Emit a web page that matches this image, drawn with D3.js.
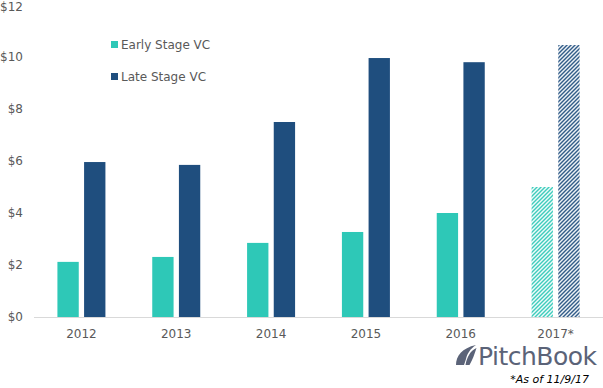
<!DOCTYPE html>
<html>
<head>
<meta charset="utf-8">
<script src="https://cdn.jsdelivr.net/npm/d3@7"></script>
<style>
  body { margin: 0; background: #fff; }
  text { font-family: "DejaVu Sans", Verdana, sans-serif; fill: #595959; }
</style>
</head>
<body>
<div class="chart"></div>
<script>
const years = ["2012", "2013", "2014", "2015", "2016", "2017*"]
const earlyStage = [2.12, 2.31, 2.85, 3.27, 4.0, 5.0]
const lateStage = [5.96, 5.85, 7.5, 9.96, 9.8, 10.46]
const yTicks = [0, 2, 4, 6, 8, 10, 12]
const seriesNames = ["Early Stage VC", "Late Stage VC"]
const seriesColors = ["#2ec8b7", "#1f4e7e"]

let width = 603, height = 388

let svg = d3.select(".chart").append("svg")
    .attr("width", width)
    .attr("height", height)

// hatch patterns for the partial year
let defs = svg.append("defs")
seriesColors.forEach((c, i) => {
    let p = defs.append("pattern")
        .attr("id", "hatch" + i)
        .attr("patternUnits", "userSpaceOnUse")
        .attr("width", 4)
        .attr("height", 4)
    p.append("path")
        .attr("d", "M-1,1 l2,-2 M0,4 l4,-4 M3,5 l2,-2")
        .attr("stroke", c)
        .attr("stroke-width", 1.4)
})

let x = d3.scaleBand()
    .domain(years)
    .range([34, 603])

let x1 = d3.scaleBand()
    .domain([0, 1])
    .range([x.bandwidth() / 2 - 24, x.bandwidth() / 2 + 24])
    .paddingInner(0.2)

let y = d3.scaleLinear()
    .domain([0, 12])
    .range([317, 5])

// y tick labels
svg.selectAll("text.ytick")
    .data(yTicks)
    .enter().append("text")
    .attr("class", "ytick")
    .attr("x", 23)
    .attr("y", d => Math.max(y(d), 7))
    .attr("dy", "0.35em")
    .attr("text-anchor", "end")
    .style("font-size", "12px")
    .text(d => "$" + d)

// bars
let groups = svg.selectAll("g.year")
    .data(years)
    .enter().append("g")
    .attr("class", "year")
    .attr("transform", d => "translate(" + x(d) + ",0)")

groups.each(function(d, i) {
    let g = d3.select(this)
    let vals = [earlyStage[i], lateStage[i]]
    vals.forEach((v, s) => {
        g.append("rect")
            .attr("x", x1(s))
            .attr("y", y(v))
            .attr("width", x1.bandwidth())
            .attr("height", y(0) - y(v))
            .attr("fill", i === years.length - 1 ? "url(#hatch" + s + ")" : seriesColors[s])
    })
})

// baseline
svg.append("line")
    .attr("x1", 34)
    .attr("x2", 603)
    .attr("y1", y(0) + 0.5)
    .attr("y2", y(0) + 0.5)
    .attr("stroke", "#d9d9d9")
    .attr("stroke-width", 1)

// x labels
svg.selectAll("text.xtick")
    .data(years)
    .enter().append("text")
    .attr("class", "xtick")
    .attr("x", d => x(d) + x.bandwidth() / 2)
    .attr("y", 338)
    .attr("text-anchor", "middle")
    .style("font-size", "12px")
    .text(d => d)

// legend
let legend = svg.selectAll("g.legend")
    .data(seriesNames)
    .enter().append("g")
    .attr("class", "legend")
    .attr("transform", (d, i) => "translate(111," + (41 + i * 32) + ")")

legend.append("rect")
    .attr("width", 7)
    .attr("height", 7)
    .attr("fill", (d, i) => seriesColors[i])

legend.append("text")
    .attr("x", 10)
    .attr("y", 4)
    .attr("dy", "0.35em")
    .style("font-size", "12px")
    .text(d => d)

// PitchBook logo
let logo = svg.append("g").attr("transform", "translate(455,345)")
logo.append("path")
    .attr("d", "M1,20 C1,11 7,3 21,0 C15,4 12,9 11,14 L9,20 Z M10.5,20 C12,12 15,6 21.5,3 C19.5,9 17.5,15 14.5,20 Z")
    .attr("fill", "#5b6378")
svg.append("text")
    .attr("x", 478)
    .attr("y", 365)
    .attr("textLength", 119)
    .style("font-size", "25px")
    .style("fill", "#5b6378")
    .text("PitchBook")

svg.append("text")
    .attr("x", 589)
    .attr("y", 383)
    .attr("text-anchor", "end")
    .style("font-size", "11px")
    .style("font-style", "italic")
    .style("fill", "#000")
    .text("*As of 11/9/17")
</script>
</body>
</html>
